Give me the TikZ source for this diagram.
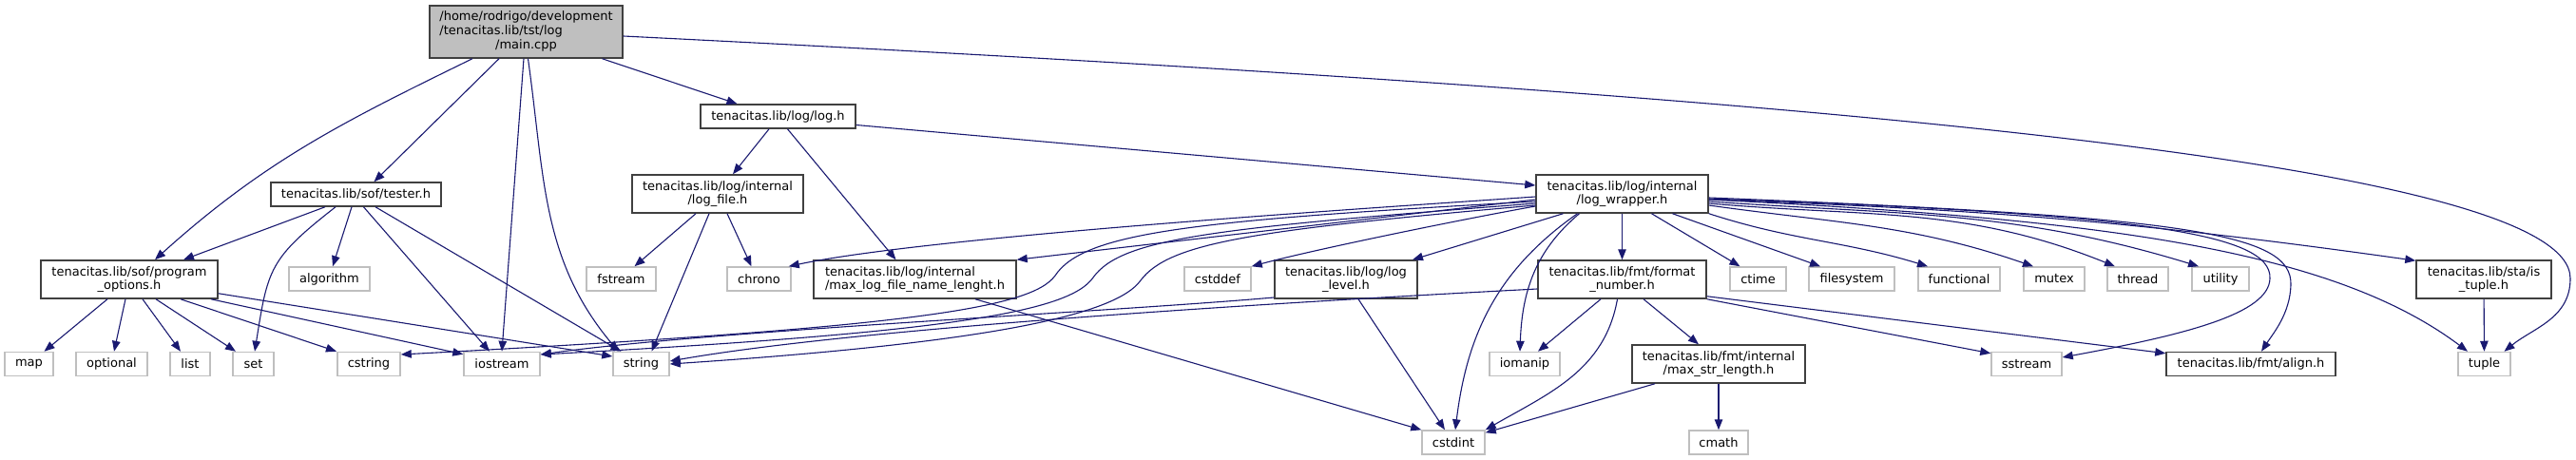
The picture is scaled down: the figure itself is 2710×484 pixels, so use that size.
\documentclass[tikz,border=0pt]{standalone}
\usepackage{fontspec}
\setmainfont{DejaVu Sans}
\usepackage{tikz}
\usetikzlibrary{arrows.meta}
\definecolor{DoxEdge}{HTML}{191970}
\definecolor{DoxFrame}{HTML}{404040}
\definecolor{DoxSysFrame}{HTML}{BFBFBF}
\definecolor{DoxMainFill}{HTML}{BFBFBF}

\begin{document}
\begin{tikzpicture}[x=1pt, y=1pt, every node/.style={font=\fontsize{13}{14.6}\selectfont, align=center, inner sep=0pt},
  hdr/.style={draw=DoxFrame, line width=1.5pt, fill=white, minimum height=40pt},
  sys/.style={draw=DoxSysFrame, line width=1.5pt, fill=white, minimum height=25pt},
  dep/.style={draw=DoxEdge, line width=1.1pt, -{Triangle[length=11pt,width=8.5pt]}}]
  \useasboundingbox (0,0) rectangle (2710,-484);
  \node[hdr, fill=DoxMainFill, minimum width=203pt, minimum height=55pt] (main) at (553.5,-33.5) {\begin{tabular}{@{}l@{}}/home/rodrigo/development\\/tenacitas.lib/tst/log\\\multicolumn{1}{@{}c@{}}{/main.cpp}\end{tabular}};
  \node[hdr, minimum width=163pt, minimum height=25pt] (logh) at (818.5,-122.5) {tenacitas.lib/log/log.h};
  \node[hdr, minimum width=179pt, minimum height=25pt] (tester) at (374.5,-204.5) {tenacitas.lib/sof/tester.h};
  \node[hdr, minimum width=180pt] (logfile) at (755,-204) {tenacitas.lib/log/internal\\/log\_file.h};
  \node[hdr, minimum width=181pt] (logwrapper) at (1706.5,-204) {tenacitas.lib/log/internal\\/log\_wrapper.h};
  \node[hdr, minimum width=186pt] (progopt) at (136,-294) {tenacitas.lib/sof/program\\\_options.h};
  \node[sys, minimum width=85pt] (algorithm) at (346.5,-293.5) {algorithm};
  \node[sys, minimum width=73pt] (fstream) at (653.5,-293.5) {fstream};
  \node[sys, minimum width=67pt] (chrono) at (798.5,-293.5) {chrono};
  \node[hdr, minimum width=213pt, align=left] (maxlog) at (962.5,-294) {tenacitas.lib/log/internal\\/max\_log\_file\_name\_lenght.h};
  \node[sys, minimum width=70pt] (cstddef) at (1281,-293.5) {cstddef};
  \node[hdr, minimum width=150pt] (loglevel) at (1416,-294) {tenacitas.lib/log/log\\\_level.h};
  \node[hdr, minimum width=177pt] (fmtnumber) at (1706.5,-294) {tenacitas.lib/fmt/format\\\_number.h};
  \node[sys, minimum width=59pt] (ctime) at (1849.5,-293.5) {ctime};
  \node[sys, minimum width=90pt] (filesystem) at (1948,-293.5) {filesystem};
  \node[sys, minimum width=86pt] (functional) at (2061,-293.5) {functional};
  \node[sys, minimum width=64pt] (mutex) at (2161,-293.5) {mutex};
  \node[sys, minimum width=64pt] (thread) at (2249,-293.5) {thread};
  \node[sys, minimum width=60pt] (utility) at (2336,-293.5) {utility};
  \node[hdr, minimum width=142pt] (istuple) at (2613,-294) {tenacitas.lib/sta/is\\\_tuple.h};
  \node[sys, minimum width=51pt] (map) at (30.5,-383) {map};
  \node[sys, minimum width=75pt] (optional) at (117.5,-383) {optional};
  \node[sys, minimum width=42pt] (list) at (200,-383) {list};
  \node[sys, minimum width=43pt] (set) at (266.5,-383) {set};
  \node[sys, minimum width=66pt] (cstring) at (388,-383) {cstring};
  \node[sys, minimum width=80pt] (iostream) at (528,-383) {iostream};
  \node[sys, minimum width=59pt] (string) at (674.5,-383) {string};
  \node[sys, minimum width=74pt] (iomanip) at (1604,-383) {iomanip};
  \node[hdr, minimum width=182pt] (maxstr) at (1808,-383) {tenacitas.lib/fmt/internal\\/max\_str\_length.h};
  \node[sys, minimum width=74pt] (sstream) at (2132,-383) {sstream};
  \node[hdr, minimum width=178pt, minimum height=25pt] (align) at (2368,-383) {tenacitas.lib/fmt/align.h};
  \node[sys, minimum width=55pt] (tuple) at (2613.5,-383) {tuple};
  \node[sys, minimum width=66pt] (cstdint) at (1529,-465.5) {cstdint};
  \node[sys, minimum width=62pt] (cmath) at (1808,-465.5) {cmath};
  \draw[dep] ([xshift=-56.5pt]main.south) to[out=206,in=42] ([xshift=27pt]progopt.north);
  \draw[dep] ([xshift=-28.5pt]main.south) -- ([xshift=19pt]tester.north);
  \draw[dep] ([xshift=-2.5pt]main.south) -- (iostream.north);
  \draw[dep] ([xshift=2pt]main.south) to[out=278,in=130] ([xshift=-24pt]string.north);
  \draw[dep] ([xshift=80pt]main.south) -- ([xshift=-43pt]logh.north);
  \draw[dep] ([yshift=-4.5pt]main.east) .. controls (1900,-100) and (2704,-170) .. (2704,-293) .. controls (2704,-335) and (2665,-345) .. ([xshift=21pt]tuple.north);
  \draw[dep] ([xshift=-9.5pt]logh.south) -- ([xshift=16pt]logfile.north);
  \draw[dep] ([xshift=10pt]logh.south) -- ([xshift=-20pt]maxlog.north);
  \draw[dep] ([yshift=-9pt]logh.east) -- ([yshift=9pt]logwrapper.west);
  \draw[dep] ([xshift=-32.5pt]tester.south) -- ([xshift=57pt]progopt.north);
  \draw[dep] ([xshift=-21.5pt]tester.south) to[out=218,in=81,looseness=1.3] ([xshift=1.5pt]set.north);
  \draw[dep] ([xshift=-4.5pt]tester.south) -- ([xshift=3.5pt]algorithm.north);
  \draw[dep] ([xshift=8pt]tester.south) -- ([xshift=-13pt]iostream.north);
  \draw[dep] ([xshift=20.5pt]tester.south) -- ([xshift=-21pt]string.north);
  \draw[dep] ([xshift=-23pt]progopt.south) -- ([xshift=16pt]map.north);
  \draw[dep] ([xshift=-4pt]progopt.south) -- ([xshift=2.5pt]optional.north);
  \draw[dep] ([xshift=14pt]progopt.south) -- ([xshift=-10pt]list.north);
  \draw[dep] ([xshift=28pt]progopt.south) -- ([xshift=-18.5pt]set.north);
  \draw[dep] ([xshift=54pt]progopt.south) -- ([xshift=-34pt]cstring.north);
  \draw[dep] ([xshift=86pt]progopt.south) -- ([yshift=-3pt]iostream.north west);
  \draw[dep] ([yshift=6pt]progopt.south east) -- ([yshift=8pt]string.west);
  \draw[dep] ([xshift=-23pt]logfile.south) -- ([xshift=14pt]fstream.north);
  \draw[dep] ([xshift=-9pt]logfile.south) -- ([xshift=11pt]string.north);
  \draw[dep] ([xshift=10pt]logfile.south) -- ([xshift=-8pt]chrono.north);
  \draw[dep] ([yshift=-3pt]logwrapper.west) to[out=184,in=12,looseness=0.5] ([xshift=-3pt]chrono.north east);
  \draw[dep] ([yshift=-6pt]logwrapper.west) -- (maxlog.north east);
  \draw[dep] ([yshift=-8pt]logwrapper.west) .. controls (1250,-232) and (1140,-245) .. (1110,-290) .. controls (1085,-325) and (950,-345) .. ([yshift=10pt]cstring.east);
  \draw[dep] ([yshift=-10pt]logwrapper.west) .. controls (1280,-240) and (1180,-250) .. (1150,-292) .. controls (1125,-328) and (1000,-350) .. ([yshift=10pt]iostream.east);
  \draw[dep] ([yshift=-12pt]logwrapper.west) .. controls (1320,-242) and (1230,-255) .. (1200,-295) .. controls (1175,-330) and (1050,-360) .. (string.east);
  \draw[dep] ([yshift=-13pt]logwrapper.west) to[out=190,in=15,looseness=0.6] (cstddef.north east);
  \draw[dep] ([xshift=-62pt]logwrapper.south) -- ([xshift=70pt]loglevel.north);
  \draw[dep] ([xshift=-47pt]logwrapper.south) to[out=215,in=83] ([xshift=2pt]cstdint.north);
  \draw[dep] ([xshift=-45pt]logwrapper.south) to[out=220,in=88] ([xshift=-5pt]iomanip.north);
  \draw[dep] (logwrapper) -- (fmtnumber);
  \draw[dep] ([xshift=31pt]logwrapper.south) -- ([xshift=-19pt]ctime.north);
  \draw[dep] ([xshift=53pt]logwrapper.south) -- ([xshift=-33pt]filesystem.north);
  \draw[dep] (logwrapper.south east) to[out=-18,in=163] ([xshift=-33pt]functional.north);
  \draw[dep] ([yshift=-12pt]logwrapper.east) to[out=-8,in=161] ([xshift=-22pt]mutex.north);
  \draw[dep] ([yshift=-10pt]logwrapper.east) to[out=-5,in=158] ([xshift=-24pt]thread.north);
  \draw[dep] ([yshift=-8pt]logwrapper.east) to[out=-4,in=163] ([xshift=-23pt]utility.north);
  \draw[dep] ([yshift=-6pt]logwrapper.east) to[out=-2,in=172] ([yshift=-1pt]istuple.north west);
  \draw[dep] ([yshift=-6pt]logwrapper.east) .. controls (2200,-230) and (2450,-260) .. ([xshift=-17.5pt]tuple.north);
  \draw[dep] ([yshift=-5pt]logwrapper.east) .. controls (2250,-225) and (2390,-245) .. (2388,-293) .. controls (2387,-330) and (2300,-352) .. ([yshift=7pt]sstream.east);
  \draw[dep] ([yshift=-4pt]logwrapper.east) .. controls (2300,-228) and (2412,-245) .. (2410,-300) .. controls (2409,-330) and (2392,-350) .. ([xshift=11pt]align.north);
  \draw[dep] ([xshift=-22.5pt]fmtnumber.south) -- ([xshift=14pt]iomanip.north);
  \draw[dep] ([xshift=-5pt]fmtnumber.south) to[out=260,in=30] (cstdint.north east);
  \draw[dep] ([xshift=22.5pt]fmtnumber.south) -- ([xshift=-21pt]maxstr.north);
  \draw[dep] (fmtnumber.south east) -- ([yshift=-2pt]sstream.north west);
  \draw[dep] ([yshift=3pt]fmtnumber.south east) -- ([yshift=-2pt]align.north west);
  \draw[dep] ([yshift=-10pt]fmtnumber.west) to[out=183,in=10,looseness=0.6] ([yshift=3pt]string.east);
  \draw[dep] ([yshift=-19pt]loglevel.west) to[out=185,in=8,looseness=0.6] ([yshift=10pt]iostream.east);
  \draw[dep] ([xshift=13pt]loglevel.south) -- ([xshift=-9pt]cstdint.north);
  \draw[dep] ([xshift=63.5pt]maxlog.south) -- (cstdint.north west);
  \draw[dep] ([xshift=-67pt]maxstr.south) -- ([yshift=-3pt]cstdint.north east);
  \draw[dep] (maxstr) -- (cmath);
  \draw[dep] (istuple) -- (tuple);
\end{tikzpicture}
\end{document}
